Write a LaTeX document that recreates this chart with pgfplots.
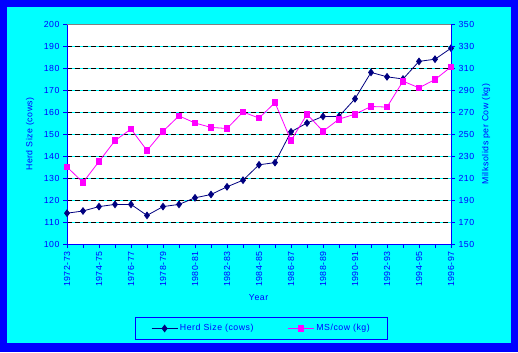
\documentclass[border=0pt]{standalone}
\usepackage{fontspec}
\setmainfont{Liberation Sans}[LetterSpace=6]
\usepackage{pgfplots}
\pgfplotsset{compat=1.18}
\definecolor{bblue}{RGB}{0,0,255}
\definecolor{ccyan}{RGB}{0,255,255}
\definecolor{nnavy}{RGB}{0,0,128}
\definecolor{mmag}{RGB}{255,0,255}
\begin{document}
\begin{tikzpicture}[x=1bp,y=1bp]
\fill[bblue] (0,0) rectangle (518,352);
\fill[ccyan] (7,9) rectangle (511,345);
\pgfplotsset{
  common/.style={
    at={(67bp,108bp)}, anchor=south west, scale only axis,
    width=384bp, height=220bp, xmin=0, xmax=24,
    /pgf/number format/assume math mode=true,
    tick label style={font=\fontsize{8.8}{10}\selectfont, text=bblue},
    label style={font=\fontsize{8.8}{10}\selectfont, text=bblue},
    axis line style={-, bblue, line width=0.8bp},
    tick style={bblue, line width=0.8bp},
    tick align=outside, major tick length=4bp,
  }
}
\begin{axis}[common,
  ymin=100, ymax=200, ytick={100,110,...,200},
  axis y line*=left, axis x line*=bottom,
  axis background/.style={fill=white},
  xtick={0,...,24},
  xticklabels={1972-73,,1974-75,,1976-77,,1978-79,,1980-81,,1982-83,,1984-85,,1986-87,,1988-89,,1990-91,,1992-93,,1994-95,,1996-97},
  xticklabel style={rotate=90, anchor=east},
  ymajorgrids,
  major grid style={black, line width=0.7bp, dash pattern=on 5bp off 3bp, preaction={draw=ccyan, solid, line width=0.7bp}},
  xlabel={Year}, xlabel style={at={(axis description cs:0.499,-0.245)}, anchor=center},
  ylabel={Herd Size (cows)}, ylabel style={at={(axis description cs:-0.0964,0.5)}, anchor=center},
]
\addplot[nnavy, line width=0.8bp, mark=diamond*, mark size=3.3bp, mark options={fill=nnavy, solid}] coordinates {
(0,114) (1,115) (2,117) (3,118) (4,118) (5,113) (6,117) (7,118) (8,121) (9,122.5)
(10,126) (11,129) (12,136) (13,137) (14,151) (15,155) (16,158) (17,158) (18,166) (19,178)
(20,176) (21,175) (22,183) (23,184) (24,189)};
\draw[gray, line width=0.8bp] (rel axis cs:0,1) -- (rel axis cs:1,1);
\end{axis}
\begin{axis}[common,
  ymin=150, ymax=350, ytick={150,170,...,350},
  axis y line*=right, axis x line=none,
  ylabel={Milksolids per Cow (kg)},
  ylabel style={at={(axis description cs:1.0911,0.5)}, anchor=center},
  legend columns=2,
  legend style={at={(axis description cs:0.5065,-0.384)}, anchor=center,
    draw=bblue, line width=0.8bp, fill=ccyan, font=\fontsize{8.8}{10}\selectfont, text=bblue,
    inner xsep=16bp, inner ysep=5bp,
    /tikz/every even column/.append style={column sep=32bp}},
  legend image code/.code={\draw[#1, mark repeat=2, mark phase=2] plot coordinates {(0bp,0bp) (13bp,0bp) (26bp,0bp)};},
]
\addlegendimage{nnavy, line width=0.8bp, mark=diamond*, mark size=3.3bp, mark options={fill=nnavy, solid}}
\addlegendentry{Herd Size (cows)}
\addplot[mmag, line width=0.8bp, mark=square*, mark size=2.8bp, mark options={fill=mmag, solid}] coordinates {
(0,220) (1,206) (2,225) (3,244) (4,254.5) (5,235) (6,252.5) (7,266.5) (8,260) (9,256)
(10,255) (11,270) (12,264.5) (13,278.5) (14,244) (15,268) (16,252.5) (17,263.5) (18,268) (19,275)
(20,274.5) (21,298) (22,292) (23,299.5) (24,311)};
\addlegendentry{MS/cow (kg)}
\end{axis}
\end{tikzpicture}
\end{document}
